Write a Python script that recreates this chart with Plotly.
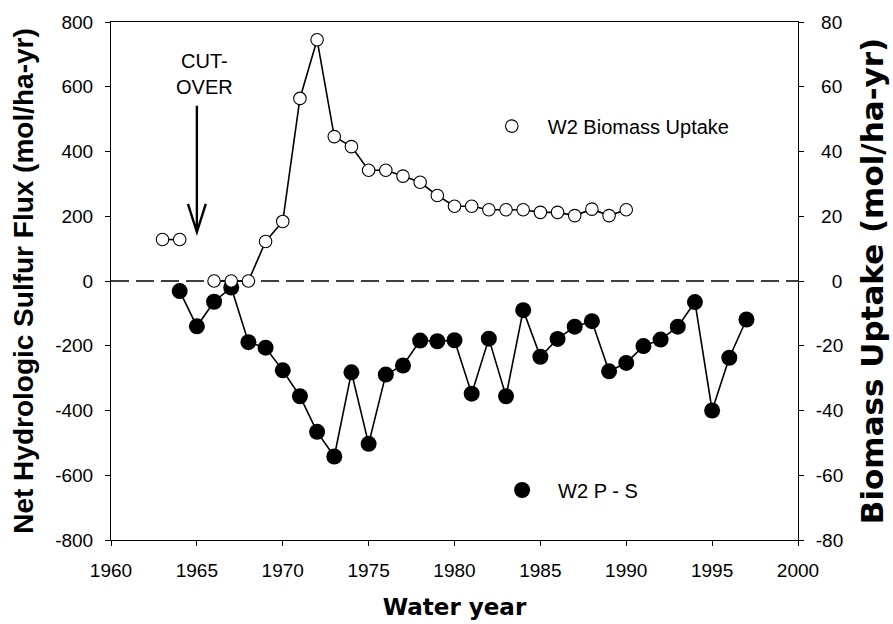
import plotly.graph_objects as go

# Biomass uptake of sulfur on watershed W2 (mol/ha-yr), right axis
years_bio = list(range(1963, 1991))
biomass_uptake = [12.8, 12.8, None, 0, 0, 0, 12.2, 18.4, 56.4, 74.5,
                  44.6, 41.5, 34.2, 34.2, 32.4, 30.5, 26.4, 23.1, 23.1, 22.0,
                  22.0, 22.0, 21.2, 21.2, 20.2, 22.2, 20.2, 22.0]

# Net hydrologic sulfur flux, precipitation minus streamflow (mol/ha-yr), left axis
years_ps = list(range(1964, 1998))
p_minus_s = [-31, -140, -64, -20, -189, -206, -276, -356, -466, -542,
             -282, -503, -289, -261, -184, -186, -183, -348, -178, -356,
             -90, -234, -179, -141, -124, -279, -253, -201, -181, -141,
             -65, -400, -237, -119]

year_ticks = [1960, 1965, 1970, 1975, 1980, 1985, 1990, 1995, 2000]
flux_ticks = [-800, -600, -400, -200, 0, 200, 400, 600, 800]
uptake_ticks = [-80, -60, -40, -20, 0, 20, 40, 60, 80]

NBSP = "\u00a0"


def right_label(v):
    # pad non-negative labels so the right-hand column lines up on its right edge
    s = str(v)
    if v > 0:
        return NBSP + s
    if v == 0:
        return NBSP * 3 + s
    return s


SANS = "Liberation Sans, Arial, sans-serif"
TICK_FONT = dict(family=SANS, size=19, color="black")

fig = go.Figure()

fig.add_trace(go.Scatter(
    x=years_bio, y=biomass_uptake, yaxis="y2", mode="lines",
    line=dict(color="black", width=1.6), connectgaps=False,
    showlegend=False, hoverinfo="skip"))
fig.add_trace(go.Scatter(
    x=years_bio, y=biomass_uptake, yaxis="y2", mode="markers",
    name="W2 Biomass Uptake", legend="legend",
    marker=dict(symbol="circle", size=12.5, color="white",
                line=dict(color="black", width=1.1))))

fig.add_trace(go.Scatter(
    x=years_ps, y=p_minus_s, mode="lines",
    line=dict(color="black", width=1.6),
    showlegend=False, hoverinfo="skip"))
fig.add_trace(go.Scatter(
    x=years_ps, y=p_minus_s, mode="markers",
    name="W2 P - S", legend="legend2",
    marker=dict(symbol="circle", size=16, color="black",
                line=dict(color="black", width=0))))

# dashed zero reference line
fig.add_shape(type="line", xref="x", yref="y", x0=1960, x1=2000, y0=0, y1=0,
              line=dict(color="black", width=1.5, dash="18px,7px"), layer="below")

# cut-over arrow with an open head
fig.add_shape(type="path", xref="x", yref="y",
              path="M 1965,541 L 1965,151 M 1964.48,238 L 1965,151 L 1965.52,238",
              line=dict(color="black", width=2.4))
fig.add_annotation(x=1965.45, y=640, xref="x", yref="y", text="CUT-<br>OVER",
                   showarrow=False, align="center", xanchor="center", yanchor="middle",
                   font=dict(family=SANS, size=20, color="black"))

axis_common = dict(
    ticks="outside", ticklen=5, tickwidth=1, tickcolor="black",
    showline=True, linecolor="black", linewidth=1,
    showgrid=False, zeroline=False, tickfont=TICK_FONT, automargin=False,
)

fig.update_layout(
    width=893, height=624,
    margin=dict(l=111, r=95, t=22, b=84, pad=0, autoexpand=False),
    plot_bgcolor="white", paper_bgcolor="white",
    xaxis=dict(range=[1960, 2000], tickmode="array", tickvals=year_ticks,
               mirror=True, ticklabelstandoff=8,
               title=dict(text="Water year", standoff=19,
                          font=dict(family="DejaVu Sans, sans-serif", size=23,
                                    color="black", weight="bold")),
               **axis_common),
    yaxis=dict(range=[-800, 800], tickmode="array", tickvals=flux_ticks,
               ticktext=[str(v) for v in flux_ticks], ticklabelstandoff=8,
               title=dict(text="Net Hydrologic Sulfur Flux (mol/ha-yr)", standoff=13,
                          font=dict(family=SANS, size=28, color="black", weight="bold")),
               **axis_common),
    yaxis2=dict(range=[-80, 80], overlaying="y", side="right", tickmode="array",
                tickvals=uptake_ticks, ticktext=[right_label(v) for v in uptake_ticks],
                ticklabelstandoff=8,
                title=dict(text="Biomass Uptake (mol/ha-yr)", standoff=19,
                           font=dict(family="DejaVu Sans, sans-serif", size=31,
                                     color="black", weight="bold")),
                **axis_common),
    legend=dict(x=0.531, y=0.799, xanchor="left", yanchor="middle",
                bgcolor="rgba(0,0,0,0)", itemwidth=62,
                font=dict(family=SANS, size=20, color="black")),
    legend2=dict(x=0.546, y=0.0965, xanchor="left", yanchor="middle",
                 bgcolor="rgba(0,0,0,0)", itemwidth=62,
                 font=dict(family=SANS, size=20, color="black")),
)

fig.write_html("out.html")
